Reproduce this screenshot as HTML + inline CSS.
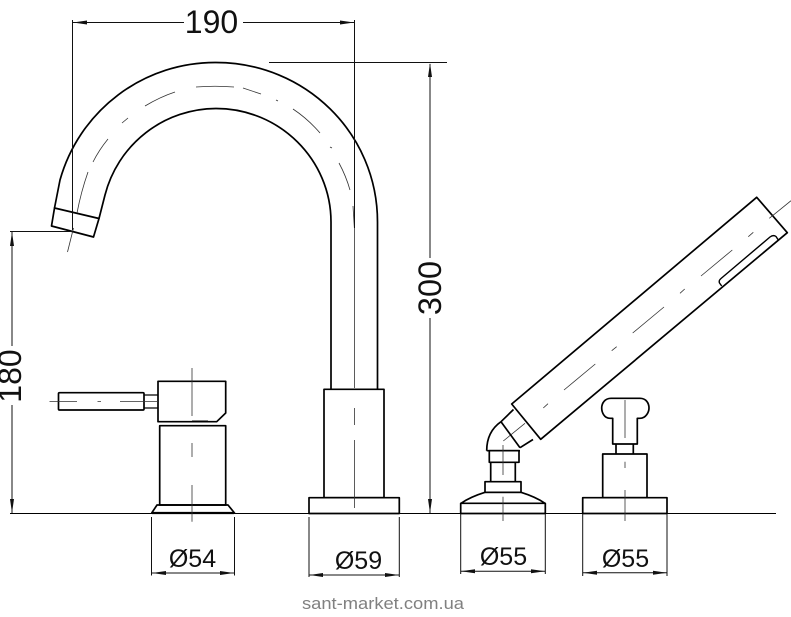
<!DOCTYPE html>
<html><head><meta charset="utf-8"><style>
html,body{margin:0;padding:0;background:#fff}
svg{display:block}
text{font-family:"Liberation Sans",Arial,sans-serif;fill:#111}
.m{fill:none;stroke:#000;stroke-width:1.7;stroke-linejoin:round}
.d{fill:none;stroke:#111;stroke-width:1}
.c{fill:none;stroke:#333;stroke-width:.8}
.a{fill:#111;stroke:none}
</style></head><body>
<svg width="791" height="617" viewBox="0 0 791 617" xmlns="http://www.w3.org/2000/svg">
<!-- spout -->
<path class="m" d="M54.5 208 L60 180 A161 161 0 0 1 216 62.5 C305 62.5 377.5 133 377.5 222 V389"/>
<path class="m" d="M99 218.5 L105 195 A115 115 0 0 1 216 108.5 C280 108.5 331 160 331 222 V389"/>
<path class="m" d="M54.5 208 L99 218.5 L93.5 237 L51.5 226 Z"/>
<path class="c" d="M67.5 252 L73.5 228 M77 213 Q81 192 88 172 M93 162 Q99 150 108 139 M122 123 L128 118 M145 106 Q160 97 175 92 M196 87 Q215 85.500 234 87 M243 88 L261 94 M276 100 L278 101 M293 109 Q308 119 320 133 M330 147 L332 148 M339 163 Q346 176 350 190 M353 206 L354.500 230 V388"/>
<!-- dim 190 -->
<path class="d" d="M72.500 20 V230 M354.500 20 V228 M72.500 22.500 H184 M243 22.500 H354.500"/>
<path class="a" d="M73 22.500 L87 20.500 V24.500 Z M354 22.500 L340 20.500 V24.500 Z"/>
<text x="211.500" y="33" font-size="32" text-anchor="middle">190</text>
<!-- dim 300 -->
<path class="d" d="M269 62.500 H447 M430 64 V258 M430 318 V513"/>
<path class="a" d="M430 63 L428 77 H432 Z M430 513 L428 499 H432 Z"/>
<text transform="translate(441,288) rotate(-90)" font-size="32.500" text-anchor="middle">300</text>
<!-- dim 180 -->
<path class="d" d="M10 231.500 H73 M12 232 V346 M12 405 V513"/>
<path class="a" d="M12 232 L10 246 H14 Z M12 513 L10 499 H14 Z"/>
<text transform="translate(21,376) rotate(-90)" font-size="32" text-anchor="middle">180</text>
<!-- baseline -->
<path d="M10 513.500 H776" fill="none" stroke="#000" stroke-width="1.100"/>
<!-- lever mixer -->
<path class="m" d="M158 381.300 H225.700 V413 L216.700 421.700 H158 Z"/>
<rect class="m" x="58.500" y="392.700" width="85.500" height="17.300" rx="1"/>
<path class="m" d="M144 395 H158 M144 408 H158" style="stroke-width:1.300"/>
<path class="m" d="M159.700 505 V425.700 H225.700 V505 Z"/>
<path class="m" d="M157 505 H228 L234.500 513 H151.700 Z"/>
<path d="M152 513 H234" stroke="#000" stroke-width="2.200" fill="none"/>
<path class="c" d="M192 368 V416 M192 443 V457 M192 485 V521.700 M49.500 401.500 H77 M97.500 401.500 H101 M120 401.500 H158"/>
<path d="M192 421.500 H208" stroke="#000" stroke-width="2" fill="none"/>
<!-- tall body -->
<rect class="m" x="324" y="389.300" width="60" height="108.400"/>
<rect class="m" x="309" y="497.700" width="90.300" height="15.800"/>
<path class="c" d="M354.500 408 V425 M354.500 440 V508"/>
<!-- hand shower -->
<path class="m" d="M511.700 404 L756.700 197.300 L787.300 232.700 L540.700 439.300 Z"/>
<path class="m" d="M721.700 286 L719.500 283 Q718.500 280.500 721 278.500 L770 237 Q773.300 234.500 776 236.500 L778.300 240" style="stroke-width:1.400"/>
<path class="c" d="M769.300 218.300 L791 200.700 M748.300 236.700 L753.300 232.300 M701 276 L732.300 250 M680 293.300 L684.700 289 M632.700 333 L664 307 M611.700 350.700 L616.700 346.700 M564 390 L595.300 364 M543.300 408 L548 403.700 M503.300 441 L525 423.300"/>
<path class="m" d="M501 421.700 L520 447.700 M501 421.700 L513.500 409.500 M520 447.700 L533 439.500"/>
<path class="m" d="M486.700 450.700 C486.700 438 492 428 501 421.700 M486.700 450.700 H520"/>
<rect class="m" x="489.300" y="450.700" width="29.700" height="11.600"/>
<path class="m" d="M490.700 462.300 V481.700 M515.300 462.300 V481.700"/>
<rect class="m" x="485" y="481.700" width="36" height="10.600"/>
<path class="m" d="M461 503.300 Q470 497 485 492.300 H521 Q536 497 545 503.300"/>
<rect class="m" x="460.700" y="503.300" width="84.600" height="10.200"/>
<path class="c" d="M503 445 V475 M503 496.700 V521"/>
<!-- valve -->
<path class="m" d="M612.700 418.300 H610 C604 418.300 601.700 412 601.700 408 C601.700 403 605 398.300 611 398.300 H640 C646 398.300 649 403 649 408 C649 412 646 418.300 640 418.300 H637.300 V444 H612.700 Z"/>
<path class="m" d="M616 444 V453.700 M633.300 444 V453.700"/>
<rect class="m" x="602.700" y="454" width="44.300" height="43.700"/>
<rect class="m" x="582.700" y="497.700" width="84.300" height="15.800"/>
<path class="c" d="M625 400 V438 M625 461.700 V468 M625 490 V521"/>
<!-- diameter dims -->
<path class="d" d="M151.500 517 V575.500 M234.500 517 V575.500 M151.500 573 H234.500"/>
<path class="a" d="M152 573 L166 571 V575 Z M234 573 L220 571 V575 Z"/>
<text x="192.500" y="567" font-size="25" text-anchor="middle">Ø54</text>
<path class="d" d="M309 517 V577 M399.300 517 V577 M309 575 H399"/>
<path class="a" d="M309.500 575 L323 573 V577 Z M399 575 L385 573 V577 Z"/>
<text x="358.500" y="569" font-size="25" text-anchor="middle">Ø59</text>
<path class="d" d="M460.700 514 V574 M545.300 514 V574 M461 571.300 H545"/>
<path class="a" d="M461 571.300 L475 569.300 V573.300 Z M545 571.300 L531 569.300 V573.300 Z"/>
<text x="503.500" y="565" font-size="25" text-anchor="middle">Ø55</text>
<path class="d" d="M582.700 514 V576 M667 514 V576 M583 572.700 H667"/>
<path class="a" d="M583 572.700 L597 570.700 V574.700 Z M667 572.700 L653 570.700 V574.700 Z"/>
<text x="625.500" y="567" font-size="25" text-anchor="middle">Ø55</text>
<!-- watermark -->
<text x="383" y="609" font-size="16.500" text-anchor="middle" style="fill:#808080" textLength="162" lengthAdjust="spacingAndGlyphs">sant-market.com.ua</text>
</svg>
</body></html>
